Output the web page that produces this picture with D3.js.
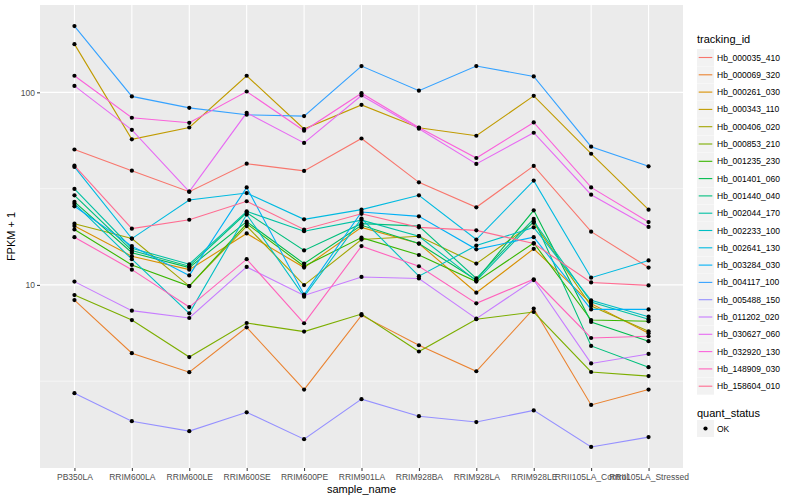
<!DOCTYPE html>
<html>
<head>
<meta charset="utf-8">
<script src="https://cdn.jsdelivr.net/npm/d3@7"></script>
<style>
  body { margin: 0; background: #fff; }
  text { font-family: "Liberation Sans", Arial, sans-serif; }
</style>
</head>
<body>
<div id="chart"></div>
<script>
// sample names along x
var samples = ["PB350LA", "RRIM600LA", "RRIM600LE", "RRIM600SE", "RRIM600PE", "RRIM901LA",
  "RRIM928BA", "RRIM928LA", "RRIM928LE", "RRII105LA_Control", "RRII105LA_Stressed"];

var tracking_ids = ["Hb_000035_410", "Hb_000069_320", "Hb_000261_030", "Hb_000343_110", "Hb_000406_020",
  "Hb_000853_210", "Hb_001235_230", "Hb_001401_060", "Hb_001440_040", "Hb_002044_170",
  "Hb_002233_100", "Hb_002641_130", "Hb_003284_030", "Hb_004117_100", "Hb_005488_150",
  "Hb_011202_020", "Hb_030627_060", "Hb_032920_130", "Hb_148909_030", "Hb_158604_010"];

// FPKM + 1 per gene, same order as samples
var hb_000035_410 = [50.5, 39.2, 30.5, 42.6, 39.1, 57.6, 34.1, 25.3, 41.5, 18.9, 12.3];
var hb_000069_320 = [8.34, 4.42, 3.52, 6.02, 2.86, 6.95, 4.86, 3.56, 7.53, 2.38, 2.86];
var hb_000261_030 = [20.2, 14.1, 12.0, 18.5, 12.3, 19.9, 16.4, 9.11, 15.4, 7.99, 5.61];
var hb_000343_110 = [178, 57.0, 65.7, 122, 64.5, 86.1, 65.5, 59.5, 95.9, 48.0, 24.6];
var hb_000406_020 = [20.8, 17.4, 9.86, 20.2, 9.98, 17.2, 17.9, 12.9, 21.0, 7.76, 5.74];
var hb_000853_210 = [8.85, 6.57, 4.22, 6.34, 5.72, 7.06, 4.51, 6.63, 7.23, 3.53, 3.36];
var hb_001235_230 = [19.4, 12.7, 9.86, 20.8, 12.5, 17.6, 14.3, 10.4, 16.5, 6.57, 6.47];
var hb_001401_060 = [27.0, 14.7, 12.3, 21.3, 12.9, 20.4, 16.4, 10.6, 24.4, 6.42, 5.10];
var hb_001440_040 = [29.2, 15.1, 12.5, 23.7, 15.1, 20.8, 20.2, 10.8, 22.0, 4.82, 3.74];
var hb_002044_170 = [31.5, 15.5, 12.8, 24.1, 19.0, 21.7, 17.9, 10.5, 21.4, 8.15, 6.63];
var hb_002233_100 = [26.4, 13.6, 7.12, 23.2, 8.69, 22.1, 11.1, 16.0, 19.9, 8.31, 6.84];
var hb_002641_130 = [41.0, 17.4, 27.6, 30.0, 21.9, 24.6, 29.2, 17.2, 34.8, 10.9, 13.4];
var hb_003284_030 = [25.6, 15.9, 11.2, 32.1, 8.9, 23.9, 22.7, 15.3, 17.7, 7.46, 7.46];
var hb_004117_100 = [221, 95.3, 83.1, 76.5, 75.3, 137, 102, 137, 121, 52.2, 41.3];
var hb_005488_150 = [2.74, 1.96, 1.74, 2.18, 1.58, 2.55, 2.08, 1.94, 2.23, 1.44, 1.62];
var hb_011202_020 = [10.4, 7.35, 6.73, 12.4, 8.82, 11.0, 10.8, 6.68, 10.6, 3.91, 4.38];
var hb_030627_060 = [108, 63.9, 30.5, 78.3, 54.6, 96.3, 64.7, 42.5, 61.7, 29.4, 20.0];
var hb_032920_130 = [122, 73.8, 69.5, 101, 63.2, 99.0, 65.7, 45.6, 69.8, 32.1, 21.2];
var hb_148909_030 = [17.7, 12.0, 7.67, 13.6, 6.32, 15.9, 12.5, 8.02, 10.7, 5.30, 5.41];
var hb_158604_010 = [41.6, 19.6, 21.8, 27.2, 19.4, 23.4, 19.9, 19.2, 16.4, 10.3, 9.94];

var y_breaks = [10, 100];
var y_minor = [Math.pow(10, 0.5), Math.pow(10, 1.5), Math.pow(10, 2.5)];

// ggplot default hue palette for 20 levels
var colors = ["#F8766D", "#EA8331", "#D89000", "#C09B00", "#A3A500", "#7CAE00", "#39B600", "#00BB4E",
  "#00BF7D", "#00C1A3", "#00BFC4", "#00BAE0", "#00B0F6", "#35A2FF", "#9590FF", "#C77CFF",
  "#E76BF3", "#FA62DB", "#FF62BC", "#FF6C91"];

var all_values = [hb_000035_410, hb_000069_320, hb_000261_030, hb_000343_110, hb_000406_020,
  hb_000853_210, hb_001235_230, hb_001401_060, hb_001440_040, hb_002044_170,
  hb_002233_100, hb_002641_130, hb_003284_030, hb_004117_100, hb_005488_150,
  hb_011202_020, hb_030627_060, hb_032920_130, hb_148909_030, hb_158604_010];

var data = tracking_ids.map(function (id, i) {
  return {
    id: id,
    color: colors[i],
    points: all_values[i].map(function (v, j) { return { sample: samples[j], value: v }; })
  };
});

var W = 800, H = 500;
var margin = { top: 5, right: 117, bottom: 32, left: 40 },
  width = W - margin.left - margin.right,
  height = H - margin.top - margin.bottom;

var svg = d3.select("#chart").append("svg")
  .attr("width", W)
  .attr("height", H);

var g = svg.append("g")
  .attr("transform", "translate(" + margin.left + "," + margin.top + ")");

// log scale with 5% expansion like ggplot
var ext = d3.extent([].concat.apply([], all_values));
var lo = Math.log10(ext[0]), hi = Math.log10(ext[1]);
var pad = (hi - lo) * 0.05;

var y = d3.scaleLog()
  .domain([Math.pow(10, lo - pad), Math.pow(10, hi + pad)])
  .range([height, 0]);

var x = d3.scalePoint()
  .domain(samples)
  .range([0, width])
  .padding(0.6);

g.append("rect")
  .attr("width", width)
  .attr("height", height)
  .attr("fill", "#EBEBEB");

// minor grid
g.selectAll(".yminor")
  .data(y_minor.filter(function (d) { return d > y.domain()[0] && d < y.domain()[1]; }))
  .enter().append("line")
  .attr("x1", 0).attr("x2", width)
  .attr("y1", function (d) { return y(d); })
  .attr("y2", function (d) { return y(d); })
  .attr("stroke", "#fff").attr("stroke-width", 0.55);

// major grid
g.selectAll(".ymajor")
  .data(y_breaks)
  .enter().append("line")
  .attr("x1", 0).attr("x2", width)
  .attr("y1", function (d) { return y(d); })
  .attr("y2", function (d) { return y(d); })
  .attr("stroke", "#fff").attr("stroke-width", 1.1);

g.selectAll(".xmajor")
  .data(samples)
  .enter().append("line")
  .attr("x1", function (d) { return x(d); })
  .attr("x2", function (d) { return x(d); })
  .attr("y1", 0).attr("y2", height)
  .attr("stroke", "#fff").attr("stroke-width", 1.1);

// lines
var line = d3.line()
  .x(function (d) { return x(d.sample); })
  .y(function (d) { return y(d.value); });

g.selectAll(".gene")
  .data(data)
  .enter().append("path")
  .attr("d", function (d) { return line(d.points); })
  .attr("fill", "none")
  .attr("stroke", function (d) { return d.color; })
  .attr("stroke-width", 1.1);

// points
data.forEach(function (s) {
  g.selectAll(null)
    .data(s.points)
    .enter().append("circle")
    .attr("cx", function (d) { return x(d.sample); })
    .attr("cy", function (d) { return y(d.value); })
    .attr("r", 2.1)
    .attr("fill", "#000");
});

// axes
var yAxis = g.append("g")
  .call(d3.axisLeft(y).tickValues(y_breaks).tickFormat(d3.format("d")).tickSize(3).tickPadding(2));
var xAxis = g.append("g")
  .attr("transform", "translate(0," + height + ")")
  .call(d3.axisBottom(x).tickSize(3).tickPadding(3));

[yAxis, xAxis].forEach(function (a) {
  a.select(".domain").remove();
  a.selectAll("line").attr("stroke", "#333").attr("stroke-width", 1);
  a.selectAll("text").attr("fill", "#4D4D4D").style("font-size", "8.5px")
    .style("font-family", "'Liberation Sans', Arial, sans-serif");
});

svg.append("text")
  .attr("transform", "translate(15," + (margin.top + height / 2) + ") rotate(-90)")
  .attr("text-anchor", "middle")
  .style("font-size", "11px")
  .text("FPKM + 1");

svg.append("text")
  .attr("x", margin.left + width / 2)
  .attr("y", 493)
  .attr("text-anchor", "middle")
  .style("font-size", "11px")
  .text("sample_name");

// legend
var lg = svg.append("g").attr("transform", "translate(697,0)");
lg.append("text")
  .attr("x", 0).attr("y", 43)
  .style("font-size", "11px")
  .text("tracking_id");

var keyStep = 17.3, keyTop = 49;
var keys = lg.selectAll(".key")
  .data(data)
  .enter().append("g")
  .attr("transform", function (d, i) { return "translate(0," + (keyTop + i * keyStep) + ")"; });

keys.append("rect")
  .attr("width", 17).attr("height", 17)
  .attr("fill", "#F2F2F2");
keys.append("line")
  .attr("x1", 1.7).attr("x2", 15.3)
  .attr("y1", 8.5).attr("y2", 8.5)
  .attr("stroke", function (d) { return d.color; })
  .attr("stroke-width", 1.1);
keys.append("text")
  .attr("x", 20).attr("y", 11.5)
  .style("font-size", "8.5px")
  .attr("fill", "#000")
  .text(function (d) { return d.id; });

lg.append("text")
  .attr("x", 0).attr("y", 417)
  .style("font-size", "11px")
  .text("quant_status");

var ok = lg.append("g").attr("transform", "translate(0,420)");
ok.append("rect").attr("width", 17).attr("height", 17).attr("fill", "#F2F2F2");
ok.append("circle").attr("cx", 8.5).attr("cy", 8.5).attr("r", 2.1).attr("fill", "#000");
ok.append("text").attr("x", 20).attr("y", 11.5).style("font-size", "8.5px").text("OK");
</script>
</body>
</html>
